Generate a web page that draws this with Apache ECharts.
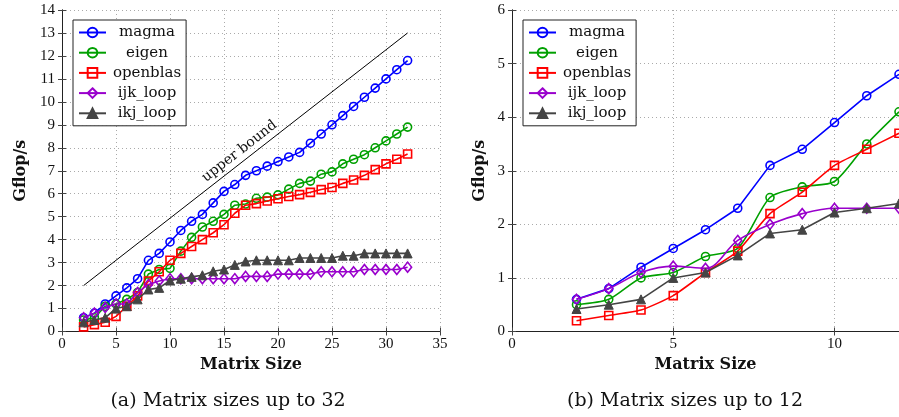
<!DOCTYPE html>
<html><head><meta charset="utf-8">
<script src="https://cdn.jsdelivr.net/npm/echarts@6/dist/echarts.min.js"></script>
<style>html,body{margin:0;padding:0;background:#fff}#c{width:899px;height:417px}</style>
</head><body><div id="c"></div>
<script>
const seriesNames = ['magma','eigen','openblas','ijk_loop','ikj_loop'];
const sizesA = [2,3,4,5,6,7,8,9,10,11,12,13,14,15,16,17,18,19,20,21,22,23,24,25,26,27,28,29,30,31,32];
const magmaA = [0.6,0.8,1.2,1.55,1.9,2.3,3.1,3.4,3.9,4.4,4.8,5.1,5.6,6.1,6.4,6.8,7.0,7.2,7.4,7.6,7.8,8.2,8.6,9.0,9.4,9.8,10.2,10.6,11.0,11.4,11.8];
const eigenA = [0.5,0.6,1.1,1.2,1.4,1.7,2.5,2.7,2.75,3.5,4.1,4.55,4.8,5.1,5.5,5.55,5.8,5.85,5.95,6.2,6.45,6.55,6.85,6.95,7.3,7.5,7.7,8.0,8.3,8.6,8.9];
const openblasA = [0.2,0.3,0.4,0.66,1.1,1.55,2.2,2.6,3.1,3.4,3.7,4.0,4.3,4.65,5.15,5.5,5.57,5.68,5.78,5.88,5.96,6.06,6.18,6.27,6.45,6.6,6.8,7.05,7.3,7.5,7.73];
const ijkA = [0.6,0.8,1.05,1.2,1.2,1.7,2.05,2.2,2.3,2.3,2.3,2.3,2.3,2.3,2.3,2.4,2.4,2.4,2.5,2.5,2.5,2.5,2.6,2.6,2.6,2.6,2.7,2.7,2.7,2.7,2.8];
const ikjA = [0.4,0.5,0.6,1.0,1.1,1.4,1.83,1.9,2.22,2.3,2.38,2.45,2.62,2.7,2.9,3.05,3.1,3.1,3.1,3.1,3.2,3.2,3.2,3.2,3.3,3.3,3.4,3.4,3.4,3.4,3.4];
const upperX = [2,32];
const upperY = [2,13];
const sizesB = [2,3,4,5,6,7,8,9,10,11,12];
const magmaB = [0.6,0.8,1.2,1.55,1.9,2.3,3.1,3.4,3.9,4.4,4.8];
const eigenB = [0.5,0.6,1.0,1.1,1.4,1.55,2.5,2.7,2.8,3.5,4.1];
const openblasB = [0.2,0.3,0.4,0.67,1.1,1.5,2.2,2.6,3.1,3.4,3.7];
const ijkB = [0.6,0.8,1.1,1.22,1.18,1.7,2.0,2.2,2.3,2.3,2.3];
const ikjB = [0.42,0.5,0.6,1.0,1.1,1.42,1.83,1.9,2.22,2.3,2.39];
const xTicksA = {min:0,max:35,interval:5};
const yTicksA = {min:0,max:14,interval:1};
const xTicksB = {min:0,max:12,interval:5};
const yTicksB = {min:0,max:6,interval:1};

const TICKFONT = 'Liberation Serif';
const FONT = 'DejaVu Serif';
const colors = ['#0000ff','#00a000','#ff0000','#9900cc','#444444'];
const symbols = ['circle','circle','rect','diamond','triangle'];
const hollow = [true,true,true,true,false];

const chart = echarts.init(document.getElementById('c'), null, {renderer:'canvas'});
const zip = (xs, ys) => xs.map((x,i)=>[x,ys[i]]);
const dataA = [magmaA,eigenA,openblasA,ijkA,ikjA];
const dataB = [magmaB,eigenB,openblasB,ijkB,ikjB];
const smoothB = [false,0.25,0.2,0.35,false];

function mkSeries(idx, xs, ys, gi, smooth){
  const c = colors[idx];
  return {
    name: seriesNames[idx], type:'line', xAxisIndex:gi*2, yAxisIndex:gi*2,
    data: zip(xs, ys), smooth: smooth, symbol: symbols[idx],
    symbolSize: symbols[idx]==='rect' ? 8 : (symbols[idx]==='diamond'? [8,10] : (symbols[idx]==='triangle'?9:8)),
    showAllSymbol:true, color:c,
    lineStyle:{color:c,width:1.6},
    itemStyle: hollow[idx] ? {color:'rgba(255,255,255,0)',borderColor:c,borderWidth:1.6} : {color:c,borderColor:c,borderWidth:1},
    emphasis:{disabled:true}, animation:false, z: 3+idx
  };
}

function axisPair(gi, xt, yt){
  const lab = {fontFamily:TICKFONT,fontSize:15,color:'#111'};
  const axLine = {show:true,lineStyle:{color:'#222',width:1}};
  const tick = {show:true,inside:true,length:4,lineStyle:{color:'#444'}};
  const split = {show:true,lineStyle:{color:'#aaa',type:[1,3],width:1}};
  const x = [
    {type:'value',gridIndex:gi,min:xt.min,max:xt.max,interval:xt.interval,position:'bottom',
     axisLine:axLine,axisTick:tick,splitLine:split,axisLabel:Object.assign({margin:5,showMaxLabel: gi===0},lab),
     name:'Matrix Size',nameLocation:'middle',nameGap:22,
     nameTextStyle:{fontFamily:FONT,fontSize:16,fontWeight:'bold',color:'#111'}},
    {type:'value',gridIndex:gi,min:xt.min,max:xt.max,interval:xt.interval,position:'top',
     axisLine:axLine,axisTick:tick,splitLine:{show:false},axisLabel:{show:false}}
  ];
  const y = [
    {type:'value',gridIndex:gi,min:yt.min,max:yt.max,interval:yt.interval,position:'left',
     axisLine:axLine,axisTick:tick,splitLine:split,axisLabel:Object.assign({margin:7},lab),
     name:'Gflop/s',nameLocation:'middle',nameGap: gi===0?33:24,
     nameTextStyle:{fontFamily:FONT,fontSize:16,fontWeight:'bold',color:'#111'}},
    {type:'value',gridIndex:gi,min:yt.min,max:yt.max,interval:yt.interval,position:'right',
     axisLine:axLine,axisTick:tick,splitLine:{show:false},axisLabel:{show:false}}
  ];
  return {x,y};
}
const aA = axisPair(0, xTicksA, yTicksA);
const aB = axisPair(1, xTicksB, yTicksB);

const series = [];
for (let i=0;i<5;i++) series.push(mkSeries(i, sizesA, dataA[i], 0, false));
series.push({
  name:'upper bound', type:'line', xAxisIndex:0, yAxisIndex:0,
  data: zip(upperX, upperY), symbol:'none', lineStyle:{opacity:0,width:0}, color:'#000',
  silent:true, animation:false, z:2,
  markLine:{silent:true,symbol:['none','none'],animation:false,
    lineStyle:{color:'#000',width:1,type:'solid'},
    label:{show:true,position:'insideMiddleTop',distance:3,formatter:'upper bound',
      fontFamily:FONT,fontSize:14,color:'#111'},
    emphasis:{disabled:true},
    data:[[{coord:[upperX[0],upperY[0]]},{coord:[upperX[1],upperY[1]]}]]}
});
for (let i=0;i<5;i++) series.push(mkSeries(i, sizesB, dataB[i], 1, smoothB[i]));

function legend(left){
  return {show:true, left:left, top:20, orient:'vertical', data:seriesNames,
    backgroundColor:'#fff', borderColor:'#222', borderWidth:1, borderRadius:0,
    padding:[5,5,5,5], itemGap:5.2, itemWidth:27, itemHeight:12,
    selectedMode:false,
    formatter:'{a|{name}}',
    textStyle:{fontFamily:FONT,fontSize:15,color:'#111',
      rich:{a:{width:72,align:'center',fontFamily:FONT,fontSize:15,color:'#111'}}}};
}

chart.setOption({
  animation:false,
  backgroundColor:'#fff',
  grid:[
    {left:62,top:10,width:378,height:321.5},
    {left:512,top:10,width:389,height:321.5}
  ],
  xAxis:[...aA.x, ...aB.x],
  yAxis:[...aA.y, ...aB.y],
  legend:[legend(73), legend(523)],
  series:series,
  graphic:[
    {type:'text',style:{text:'(a) Matrix sizes up to 32',x:228,y:401,align:'center',verticalAlign:'middle',fontFamily:FONT,fontSize:19,fill:'#111'},x:0,y:0},
    {type:'text',style:{text:'(b) Matrix sizes up to 12',x:685,y:401,align:'center',verticalAlign:'middle',fontFamily:FONT,fontSize:19,fill:'#111'},x:0,y:0}
  ]
});
</script></body></html>
